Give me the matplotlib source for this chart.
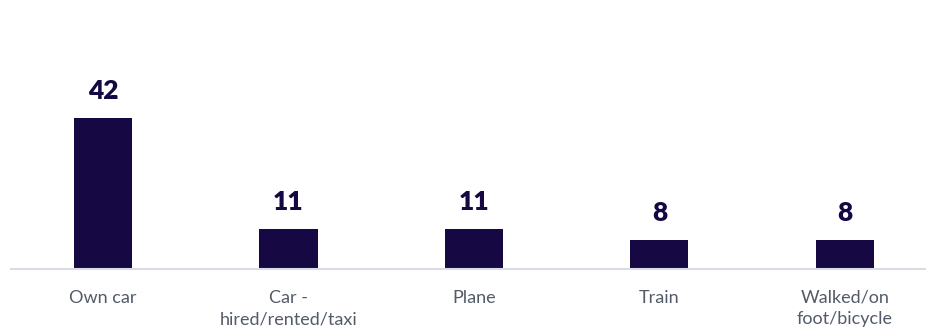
import matplotlib

matplotlib.use("Agg")

import matplotlib.pyplot as plt

categories = ["Own car", "Car -\nhired/rented/taxi", "Plane", "Train", "Walked/on\nfoot/bicycle"]
values = [42, 11, 11, 8, 8]

BAR_COLOR = "#150843"
LABEL_COLOR = "#535b68"
AXIS_COLOR = "#d9dde3"

plt.rcParams["font.family"] = ["Lato", "DejaVu Sans"]

fig = plt.figure(figsize=(9.26, 3.34), dpi=100)
ax = fig.add_axes([11 / 926, 65 / 334, 915 / 926, 269 / 334])

xs = list(range(len(categories)))
ax.bar(xs, values, width=0.313, color=BAR_COLOR)

for x, v in zip(xs, values):
    ax.annotate(
        str(v), (x, v), xytext=(0, 13.7), textcoords="offset points",
        ha="center", va="baseline", fontsize=19, fontweight="heavy", color=BAR_COLOR,
    )

ax.set_xlim(-0.496, 4.437)
ax.set_ylim(0, 42 * 269 / 151)

ax.set_xticks(xs)
ax.set_xticklabels(categories, fontsize=13, color=LABEL_COLOR, linespacing=1.4)
ax.tick_params(axis="x", length=0, pad=15)
ax.set_yticks([])

for side in ("top", "right", "left"):
    ax.spines[side].set_visible(False)
ax.spines["bottom"].set_color(AXIS_COLOR)
ax.spines["bottom"].set_linewidth(1.5)

fig.savefig("out.png", dpi=100)
